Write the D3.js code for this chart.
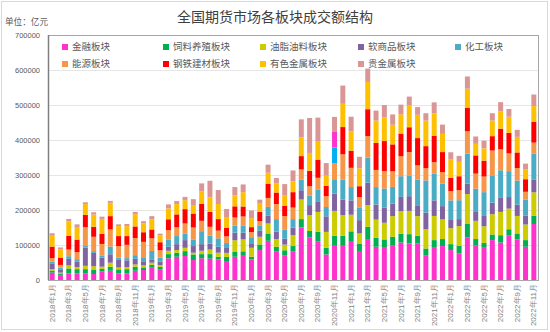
<!DOCTYPE html>
<html>
<head>
<meta charset="utf-8">
<script src="https://cdn.jsdelivr.net/npm/d3@7"></script>
<style>
  body { margin: 0; background: #fff; }
  svg { display: block; font-family: "Noto Sans CJK SC", "Noto Sans", sans-serif; }
</style>
</head>
<body>
<svg id="chart"></svg>
<script>
// 月份（2018年1月 - 2022年11月）
const months = [
  "2018年1月", "2018年2月", "2018年3月", "2018年4月", "2018年5月", "2018年6月",
  "2018年7月", "2018年8月", "2018年9月", "2018年10月", "2018年11月", "2018年12月",
  "2019年1月", "2019年2月", "2019年3月", "2019年4月", "2019年5月", "2019年6月",
  "2019年7月", "2019年8月", "2019年9月", "2019年10月", "2019年11月", "2019年12月",
  "2020年1月", "2020年2月", "2020年3月", "2020年4月", "2020年5月", "2020年6月",
  "2020年7月", "2020年8月", "2020年9月", "2020年10月", "2020年11月", "2020年12月",
  "2021年1月", "2021年2月", "2021年3月", "2021年4月", "2021年5月", "2021年6月",
  "2021年7月", "2021年8月", "2021年9月", "2021年10月", "2021年11月", "2021年12月",
  "2022年1月", "2022年2月", "2022年3月", "2022年4月", "2022年5月", "2022年6月",
  "2022年7月", "2022年8月", "2022年9月", "2022年10月", "2022年11月"
];

// 各板块月成交额（亿元）
const jinrong = [21000, 14000, 19000, 19000, 19000, 17000, 24000, 26500, 19000, 19000, 26500, 28500,
  35000, 31000, 62000, 66500, 68500, 57000, 62000, 61000, 59000, 52000, 66500, 69000,
  59000, 85500, 112000, 81000, 71000, 81000, 150000, 122000, 111000, 73000, 100000, 100000,
  109000, 83000, 117000, 95000, 92000, 98000, 107000, 104500, 104500, 71000, 92000, 97000,
  85500, 76000, 122000, 98000, 92000, 114000, 107000, 128000, 116000, 95000, 160000];
const siliao = [6000, 3000, 14000, 12000, 12000, 13000, 7500, 11500, 11500, 12000, 11500, 7500,
  8500, 6500, 12000, 11500, 14000, 16000, 12000, 13000, 7500, 14000, 15000, 13000,
  7500, 16000, 21000, 14000, 14000, 16000, 24000, 18000, 26500, 19000, 26500, 26500,
  30000, 20000, 35000, 25500, 24000, 25500, 25500, 26500, 22000, 19000, 22000, 20000,
  17000, 22000, 38000, 19000, 14000, 16000, 21000, 17000, 17000, 19000, 24000];
const youzhi = [4000, 4000, 8500, 6000, 9500, 9500, 6500, 11500, 5000, 6000, 6500, 6000,
  6000, 5000, 9500, 7500, 9500, 5000, 9500, 13000, 11500, 11500, 32000, 34000,
  25500, 22000, 28500, 22000, 16000, 31000, 56000, 45500, 57000, 45500, 71000, 59000,
  47500, 30000, 62000, 52000, 47500, 59000, 64000, 66500, 56000, 55000, 69000, 56000,
  45500, 56000, 85500, 52000, 47500, 58000, 66500, 59000, 50000, 44500, 66500];
const ruanshang = [15000, 9500, 19000, 15000, 52000, 38000, 26000, 24000, 22000, 19000, 16000, 11500,
  9500, 9500, 11500, 17000, 22000, 19000, 19000, 17000, 17000, 14000, 22000, 19000,
  13000, 17000, 22000, 21000, 17000, 22000, 26500, 28500, 28500, 44500, 49500, 44500,
  41000, 38000, 64000, 43000, 43000, 36000, 41000, 42000, 31000, 47500, 44500, 38000,
  25500, 20000, 30000, 27500, 29500, 33000, 40000, 33000, 32000, 25000, 37000];
const huagong = [7000, 5000, 7500, 7500, 6500, 5000, 5000, 22000, 6500, 6500, 10500, 11500,
  24000, 12000, 21000, 23000, 19000, 19000, 37000, 23000, 24000, 14000, 20000, 21000,
  15000, 14000, 25500, 36000, 25500, 24000, 30000, 26500, 36000, 26500, 41000, 57000,
  38000, 35000, 72000, 50000, 55000, 47500, 59000, 58000, 73000, 92000, 76000, 64500,
  54000, 54000, 85500, 64500, 68000, 78000, 79000, 74000, 69000, 46500, 74000];
const nengyuan = [9500, 7500, 19000, 20000, 52000, 41000, 34000, 49000, 33000, 38000, 49000, 44000,
  36000, 21000, 26500, 25000, 28500, 34000, 29500, 25000, 22000, 19000, 23000, 25500,
  17000, 14000, 25500, 43000, 39000, 33000, 29500, 27500, 33000, 31000, 45000, 72000,
  55000, 31000, 61000, 49000, 50000, 44500, 57000, 68000, 41000, 35000, 33000, 33000,
  26500, 28500, 64000, 43000, 44500, 71000, 60000, 51000, 36000, 22000, 31000];
const gangtie = [33000, 21000, 39000, 36000, 35000, 28500, 28500, 38000, 28500, 25000, 33000, 27500,
  25500, 23000, 31000, 37000, 41000, 40000, 49000, 43000, 33000, 25000, 32000, 28500,
  14000, 26500, 41000, 33000, 30000, 44000, 38000, 44000, 52000, 30000, 45500, 78000,
  49000, 31000, 77000, 77000, 85500, 77000, 65000, 71000, 78000, 63000, 76000, 57000,
  38000, 40000, 66500, 52000, 45500, 41000, 59000, 58000, 44500, 36000, 59000];
const youse = [31000, 24000, 42000, 36000, 31000, 35000, 43000, 38000, 28500, 28500, 35000, 25500,
  28500, 19000, 31000, 29500, 25500, 24000, 35000, 41000, 43000, 28500, 31000, 41000,
  25500, 23000, 31000, 25500, 28500, 31000, 54000, 51000, 51000, 28500, 44500, 66500,
  55000, 51000, 78000, 64000, 68000, 56000, 55000, 62000, 66500, 73000, 64000, 52000,
  52000, 41000, 55000, 33000, 35000, 44500, 49000, 46500, 44500, 28500, 45500];
const guijinshu = [7000, 5000, 6500, 7500, 5000, 6500, 6500, 5500, 5000, 6000, 6500, 6000,
  9500, 5500, 11500, 8500, 9500, 17000, 23000, 47500, 40000, 25000, 24000, 22000,
  22000, 11500, 23000, 16000, 33000, 31000, 51000, 100000, 69000, 36000, 43000, 52000,
  42000, 33000, 38000, 28500, 35000, 29500, 27500, 25500, 22000, 21000, 31000, 26500,
  21000, 17000, 35000, 21000, 22000, 21000, 26500, 22000, 20000, 16000, 33000];

const seriesNames = ["金融板块", "饲料养殖板块", "油脂油料板块", "软商品板块", "化工板块",
  "能源板块", "钢铁建材板块", "有色金属板块", "贵金属板块"];
const seriesValues = [jinrong, siliao, youzhi, ruanshang, huagong, nengyuan, gangtie, youse, guijinshu];
const seriesColors = ["#FF33CC", "#00B050", "#CCCC00", "#8064A2", "#4BACC6",
  "#F79646", "#FF0000", "#FFC000", "#D99694"];

// 个别数据点单独着色
const pointColors = [
  { series: "钢铁建材板块", month: "2020年11月", color: "#00B0F0" },
  { series: "有色金属板块", month: "2020年11月", color: "#FF33CC" }
];

const yTicks = [0, 100000, 200000, 300000, 400000, 500000, 600000, 700000];

const width = 550;
const height = 332;
const margin = { top: 35, right: 12, bottom: 52, left: 48 };
const innerW = width - margin.left - margin.right;
const innerH = height - margin.top - margin.bottom;

const svg = d3.select("#chart")
    .attr("width", width)
    .attr("height", height);

// 外框
svg.append("rect")
    .attr("x", 1.5)
    .attr("y", 1.5)
    .attr("width", width - 4)
    .attr("height", height - 4)
    .attr("fill", "#fff")
    .attr("stroke", "#d9d9d9");

svg.append("text")
    .attr("x", 275)
    .attr("y", 22)
    .attr("text-anchor", "middle")
    .attr("font-size", 14)
    .attr("fill", "#404040")
    .text("全国期货市场各板块成交额结构");

svg.append("text")
    .attr("x", 5)
    .attr("y", 25)
    .attr("font-size", 8.6)
    .attr("fill", "#595959")
    .text("单位：亿元");

const table = months.map((m, i) => {
    const row = { month: m };
    seriesNames.forEach((s, j) => { row[s] = seriesValues[j][i]; });
    return row;
});

const stack = d3.stack().keys(seriesNames);
const layers = stack(table);

const x = d3.scaleBand()
    .domain(months)
    .range([0, innerW])
    .paddingInner(0.4)
    .paddingOuter(0.2);

const y = d3.scaleLinear()
    .domain([0, 700000])
    .range([innerH, 0]);

const color = d3.scaleOrdinal()
    .domain(seriesNames)
    .range(seriesColors);

const g = svg.append("g")
    .attr("transform", `translate(${margin.left},${margin.top})`);

// 网格线
g.append("g")
    .selectAll("line")
    .data(yTicks)
    .join("line")
    .attr("x1", 0)
    .attr("x2", innerW)
    .attr("y1", d => Math.round(y(d)) + 0.5)
    .attr("y2", d => Math.round(y(d)) + 0.5)
    .attr("stroke", "#e6e6e6");

const yAxis = g.append("g")
    .call(d3.axisLeft(y).tickValues(yTicks).tickSize(0).tickPadding(8).tickFormat(d3.format("d")));
yAxis.select(".domain").remove();
yAxis.selectAll("text")
    .attr("font-size", 7.5)
    .attr("fill", "#595959")
    .attr("font-family", "\"Liberation Sans\", sans-serif");

function pointColor(key, month) {
    const p = pointColors.find(o => o.series === key && o.month === month);
    return p ? p.color : color(key);
}

g.append("g")
    .selectAll("g")
    .data(layers)
    .join("g")
    .selectAll("rect")
    .data(d => d.map(v => ({ key: d.key, v: v })))
    .join("rect")
    .attr("x", d => x(d.v.data.month))
    .attr("y", d => y(d.v[1]))
    .attr("width", x.bandwidth())
    .attr("height", d => y(d.v[0]) - y(d.v[1]))
    .attr("fill", d => pointColor(d.key, d.v.data.month));

const xAxis = g.append("g")
    .attr("transform", `translate(0,${innerH})`)
    .call(d3.axisBottom(x)
        .tickValues(months.filter((m, i) => i % 2 === 0))
        .tickSize(0)
        .tickPadding(0));
xAxis.select(".domain").remove();
xAxis.selectAll("text")
    .attr("transform", "rotate(-90)")
    .attr("x", -4)
    .attr("y", 0)
    .attr("dy", "0.32em")
    .attr("text-anchor", "end")
    .attr("font-size", 8)
    .attr("fill", "#7f7f7f");

// 绘图区边框
g.append("rect")
    .attr("x", 0.5)
    .attr("y", 0.5)
    .attr("width", innerW)
    .attr("height", innerH)
    .attr("fill", "none")
    .attr("stroke", "#a6a6a6");

g.append("line")
    .attr("x1", 0.5)
    .attr("x2", 0.5)
    .attr("y1", 0)
    .attr("y2", innerH)
    .attr("stroke", "#7f7f7f")
    .attr("stroke-width", 1.5);

// 图例
const legendX = [17, 118, 215, 313, 410];
const legend = g.append("g")
    .selectAll("g")
    .data(seriesNames)
    .join("g")
    .attr("transform", (d, i) => `translate(${legendX[i % 5]},${i < 5 ? 12 : 29})`);

legend.append("rect")
    .attr("x", -3)
    .attr("y", -3)
    .attr("width", 6)
    .attr("height", 6)
    .attr("fill", d => color(d));

legend.append("text")
    .attr("x", 7)
    .attr("y", 0)
    .attr("dy", "0.35em")
    .attr("font-size", 9.5)
    .attr("fill", "#595959")
    .text(d => d);
</script>
</body>
</html>
